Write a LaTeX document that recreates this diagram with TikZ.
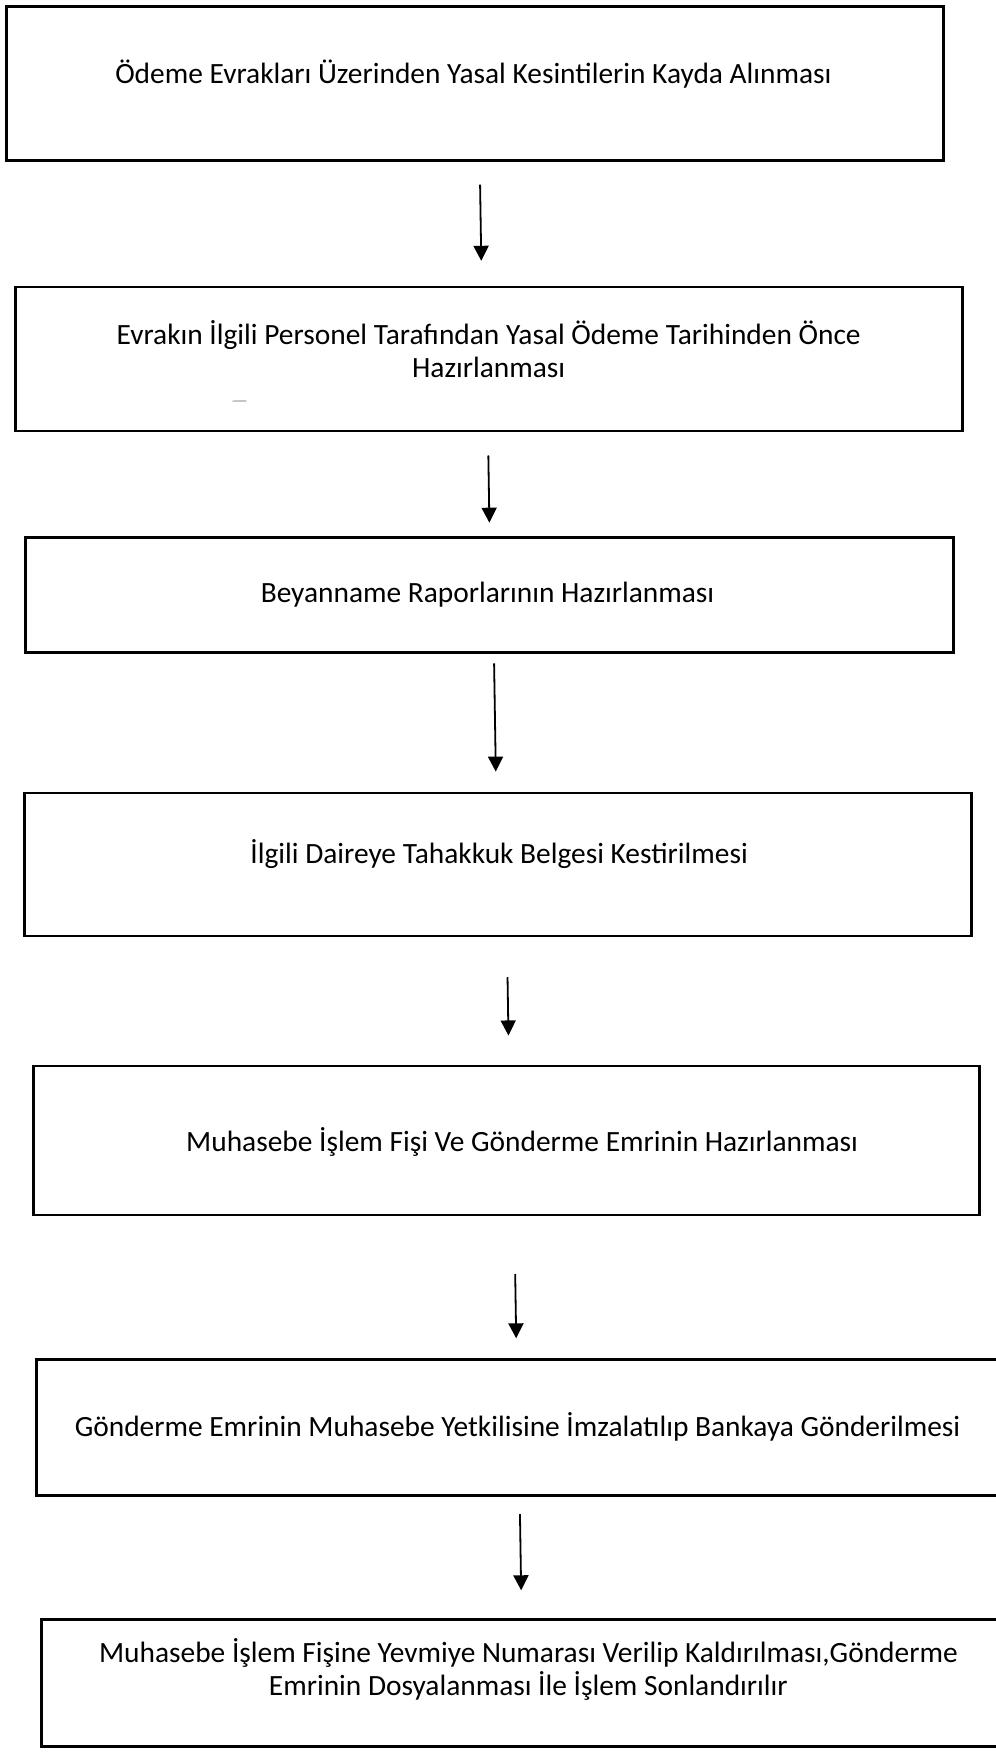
\documentclass[tikz,border=0pt]{standalone}
\usepackage{fontspec}
\setmainfont{Carlito}
\usetikzlibrary{arrows.meta}

\tikzset{
  stepbox/.style={draw=black, line width=1.4pt, fill=white, inner sep=0pt},
  steptext/.style={align=center, inner sep=0pt, font=\fontsize{14.7}{16.5}\selectfont},
  flow/.style={line width=0.9pt, -{Triangle[length=7.5pt,width=7.5pt]}},
}

\begin{document}
\begin{tikzpicture}[x=0.5pt, y=-0.5pt]
  \useasboundingbox (0,0) rectangle (996,1758);
  \clip (0,0) rectangle (996,1758);
  \fill[white] (0,0) rectangle (996,1758);

  \begin{scope}[rotate around={0.9:(498,879)}]
    % frames of the process steps
    \node[stepbox, minimum width=468.5pt, minimum height=77pt]   (b1) at (487.5,83) {};
    \node[stepbox, minimum width=473.5pt, minimum height=72pt]   (b2) at (497.5,359) {};
    \node[stepbox, minimum width=464pt,   minimum height=57.5pt] (b3) at (494,594.5) {};
    \node[stepbox, minimum width=473.5pt, minimum height=71.5pt] (b4) at (498.5,864.5) {};
    \node[stepbox, minimum width=473pt,   minimum height=74.5pt] (b5) at (502,1140.5) {};
    \node[stepbox, minimum width=481pt,   minimum height=68pt]   (b6) at (509,1428) {};
    \node[stepbox, minimum width=485.5pt, minimum height=63.5pt] (b7) at (514.5,1683.5) {};

    % step texts
    \node[steptext] (t1) at (486,74)
      {Ödeme Evrakları Üzerinden Yasal Kesintilerin Kayda Alınması};
    \node[steptext] (t2) at (497,349)
      {Evrakın İlgili Personel Tarafından Yasal Ödeme Tarihinden Önce\\Hazırlanması};
    \node[steptext] (t3) at (492,595)
      {Beyanname Raporlarının Hazırlanması};
    \node[steptext] (t4) at (499.5,854)
      {İlgili Daireye Tahakkuk Belgesi Kestirilmesi};
    \node[steptext] (t5) at (518,1142)
      {Muhasebe İşlem Fişi Ve Gönderme Emrinin Hazırlanması};
    \node[steptext] (t6) at (509,1427)
      {Gönderme Emrinin Muhasebe Yetkilisine İmzalatılıp Bankaya Gönderilmesi};
    \node[steptext] (t7) at (516,1670)
      {Muhasebe İşlem Fişine Yevmiye Numarası Verilip Kaldırılması,Gönderme\\Emrinin Dosyalanması İle İşlem Sonlandırılır};

    % horizontal positions of the connectors
    \coordinate (x1) at (491,0);
    \coordinate (x2) at (495,0);
    \coordinate (x3) at (497.5,0);
    \coordinate (x4) at (506,0);
    \coordinate (x5) at (509,0);
    \coordinate (x6) at (510,0);

    \draw[flow, shorten <=11.5pt, shorten >=12.5pt] (b1.south -| x1) -- (b2.north -| x1);
    \draw[flow, shorten <=11.5pt, shorten >=6.5pt]  (b2.south -| x2) -- (b3.north -| x2);
    \draw[flow, shorten <=5pt,    shorten >=10pt]   (b3.south -| x3) -- (b4.north -| x3);
    \draw[flow, shorten <=20pt,   shorten >=14.5pt] (b4.south -| x4) -- (b5.north -| x4);
    \draw[flow, shorten <=29pt,   shorten >=10pt]   (b5.south -| x5) -- (b6.north -| x5);
    \draw[flow, shorten <=8.5pt,  shorten >=14pt]   (b6.south -| x6) -- (b7.north -| x6);

    % stray pen mark inside the second frame
    \draw[gray!70, line width=0.6pt] (240,397) -- (254,397);
  \end{scope}
\end{tikzpicture}
\end{document}
